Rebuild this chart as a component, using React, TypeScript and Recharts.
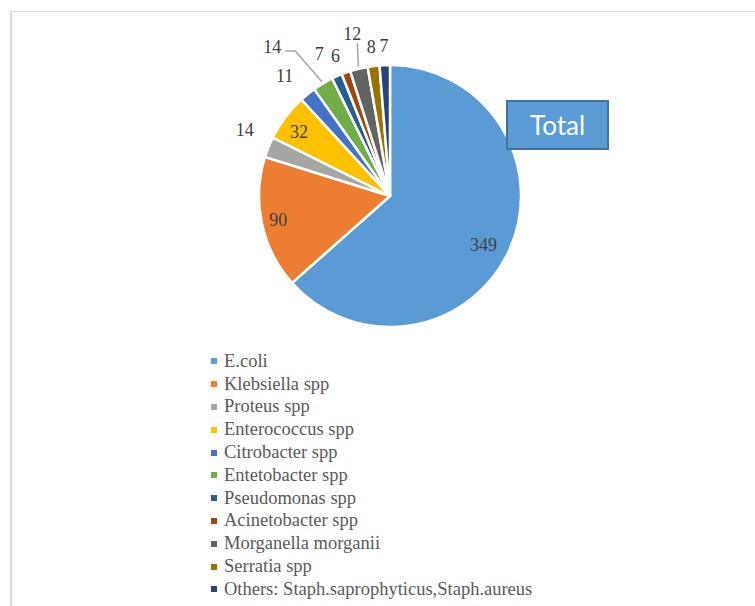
import React from "react";
import { PieChart, Pie, Cell } from "recharts";

const categories = [
    "E.coli",
    "Klebsiella spp",
    "Proteus spp",
    "Enterococcus spp",
    "Citrobacter spp",
    "Entetobacter spp",
    "Pseudomonas spp",
    "Acinetobacter spp",
    "Morganella morganii",
    "Serratia spp",
    "Others: Staph.saprophyticus,Staph.aureus",
];
const counts = [349, 90, 14, 32, 11, 14, 7, 6, 12, 8, 7];
const colors = [
    "#5b9bd5",
    "#ed7d31",
    "#a5a5a5",
    "#ffc000",
    "#4472c4",
    "#70ad47",
    "#255e91",
    "#9e480e",
    "#636363",
    "#997300",
    "#264478",
];

const RAD = Math.PI / 180;
const SERIF = "'Liberation Serif', 'Times New Roman', serif";

// small nudges for the labels, like Excel's best-fit placement
const nudges: Record<string, { dx: number; dy: number; leader?: "elbow" | "straight" }> = {
    "E.coli": { dx: -8, dy: 3 },
    "Klebsiella spp": { dx: -3, dy: 1 },
    "Enterococcus spp": { dx: -2, dy: 3 },
    "Proteus spp": { dx: -6, dy: -10 },
    "Citrobacter spp": { dx: -11, dy: -3 },
    "Entetobacter spp": { dx: -41, dy: -20, leader: "elbow" },
    "Pseudomonas spp": { dx: -10, dy: -5 },
    "Acinetobacter spp": { dx: -4, dy: 1 },
    "Morganella morganii": { dx: -2, dy: -16, leader: "straight" },
};

const data = categories.map((name, i) => ({ name, value: counts[i] }));

const renderLabel = (props: any) => {
    const { cx, cy, midAngle, outerRadius, value, name } = props;
    const cos = Math.cos(-midAngle * RAD);
    const sin = Math.sin(-midAngle * RAD);
    const n = nudges[name] || { dx: 0, dy: 0 };
    if (value >= 30) {
        const r = outerRadius * 0.85;
        return (
            <text
                x={cx + r * cos + n.dx}
                y={cy + r * sin + n.dy}
                fill="#404040"
                fontFamily={SERIF}
                fontSize={18}
                textAnchor="middle"
                dominantBaseline="central"
            >
                {value}
            </text>
        );
    }
    const r = outerRadius + 19;
    const x = cx + r * cos + n.dx;
    const y = cy + r * sin + n.dy;
    const ex = cx + (outerRadius + 2) * cos;
    const ey = cy + (outerRadius + 2) * sin;
    let leader = null;
    if (n.leader === "elbow") {
        leader = (
            <polyline
                points={`${ex},${ey} ${x + 23},${y + 4} ${x + 13},${y + 4}`}
                fill="none"
                stroke="#a6a6a6"
                strokeWidth={1.5}
            />
        );
    } else if (n.leader === "straight") {
        leader = (
            <line x1={ex} y1={ey} x2={x + 5} y2={y + 9} stroke="#a6a6a6" strokeWidth={1.5} />
        );
    }
    return (
        <g>
            {leader}
            <text
                x={x}
                y={y}
                fill="#404040"
                fontFamily={SERIF}
                fontSize={18}
                textAnchor="middle"
                dominantBaseline="central"
            >
                {value}
            </text>
        </g>
    );
};

const App: React.FC = () => {
    return (
        <div
            style={{
                position: "absolute",
                left: 0,
                top: 0,
                width: 755,
                height: 606,
                overflow: "hidden",
                background: "#fff",
            }}
        >
            <div
                style={{
                    position: "absolute",
                    left: 10,
                    top: 11,
                    width: 800,
                    height: 700,
                    borderTop: "1.5px solid #d9d9d9",
                    borderLeft: "2px solid #d9d9d9",
                }}
            />
            <div style={{ position: "absolute", left: 0, top: 0, width: 755, height: 606 }}>
                <PieChart width={755} height={606} margin={{ top: 0, right: 0, bottom: 0, left: 0 }}>
                    <Pie
                        data={data}
                        dataKey="value"
                        nameKey="name"
                        cx={390}
                        cy={196}
                        outerRadius={131}
                        startAngle={90}
                        endAngle={-270}
                        stroke="#fff"
                        strokeWidth={2.5}
                        label={renderLabel}
                        labelLine={false}
                        isAnimationActive={false}
                    >
                        {data.map((d, i) => (
                            <Cell key={d.name} fill={colors[i]} />
                        ))}
                    </Pie>
                </PieChart>
            </div>
            <div
                style={{
                    position: "absolute",
                    left: 506,
                    top: 100,
                    width: 103,
                    height: 50,
                    boxSizing: "border-box",
                    background: "#5b9bd5",
                    border: "2px solid #41719c",
                    color: "#fff",
                    fontFamily: "Lato, 'Open Sans', sans-serif",
                    fontSize: 26,
                    display: "flex",
                    alignItems: "center",
                    justifyContent: "center",
                }}
            >
                Total
            </div>
            <div style={{ position: "absolute", left: 211, top: 350 }}>
                {categories.map((c, i) => (
                    <div
                        key={c}
                        style={{
                            height: 22.8,
                            display: "flex",
                            alignItems: "center",
                            fontFamily: SERIF,
                            fontSize: 18.5,
                            color: "#595959",
                            whiteSpace: "nowrap",
                        }}
                    >
                        <span
                            style={{
                                width: 6,
                                height: 6,
                                background: colors[i],
                                display: "inline-block",
                                marginRight: 7,
                            }}
                        />
                        {c}
                    </div>
                ))}
            </div>
        </div>
    );
};

export default App;
